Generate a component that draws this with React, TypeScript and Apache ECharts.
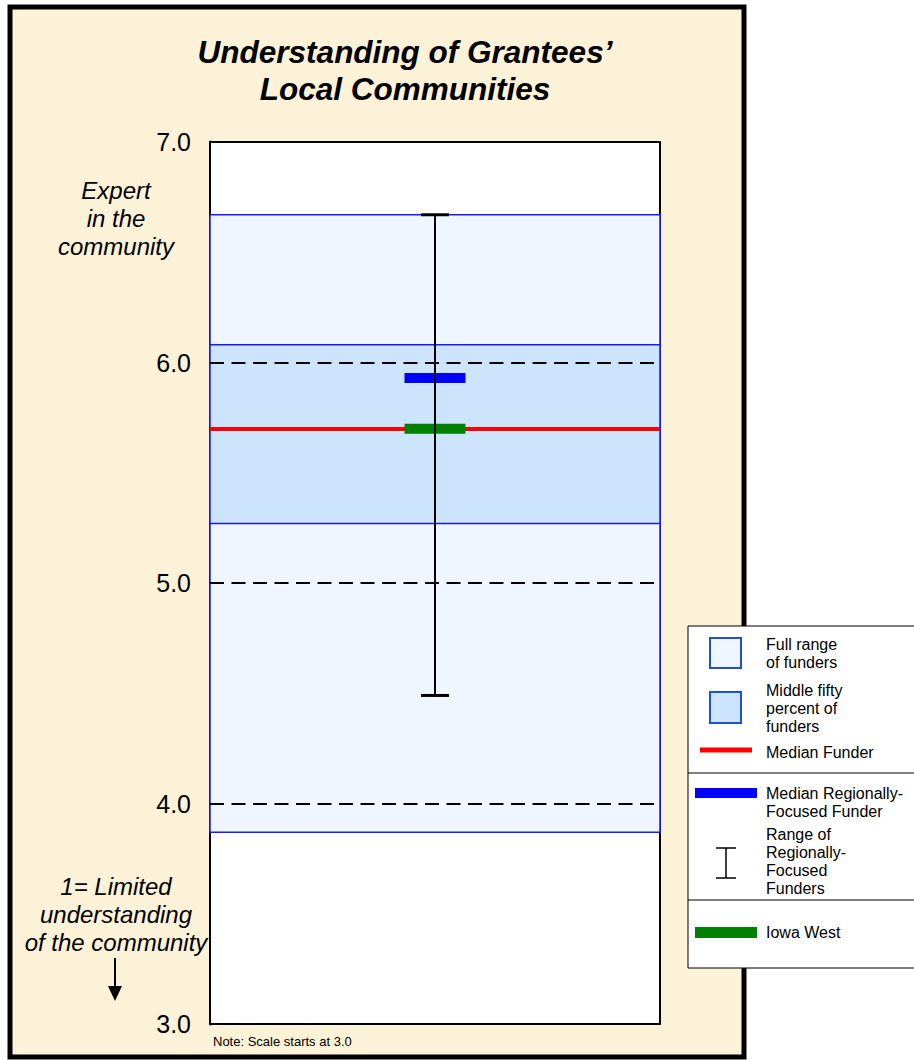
import React, { useEffect, useRef } from "react";
import * as echarts from "echarts";

const titleLines = ["Understanding of Grantees’", "Local Communities"];
const yTicks = [3, 4, 5, 6, 7];
const fullRange = [3.87, 6.67];
const middleFifty = [5.27, 6.08];
const medianFunder = 5.7;
const medianRegional = 5.93;
const regionalRange = [4.49, 6.67];
const iowaWest = 5.7;
const topLabel = ["Expert", "in the", "community"];
const bottomLabel = ["1= Limited", "understanding", "of the community"];
const noteText = "Note: Scale starts at 3.0";
const legendFull = "Full range\nof funders";
const legendMid = "Middle fifty\npercent of\nfunders";
const legendMedian = "Median Funder";
const legendRegional = "Median Regionally-\nFocused Funder";
const legendRange = "Range of\nRegionally-\nFocused\nFunders";
const legendIowa = "Iowa West";

const FONT = "'Liberation Sans', Arial, Helvetica, sans-serif";

export default function App() {
  const ref = useRef<HTMLDivElement>(null);
  useEffect(() => {
    if (!ref.current) return;
    const chart = echarts.init(ref.current, undefined, { renderer: "svg" });
    const legendText = (x: number, y: number, text: string) => ({
      type: "text",
      x,
      y,
      z: 101,
      style: {
        text,
        fontSize: 16,
        lineHeight: 18,
        fontFamily: FONT,
        fill: "#000",
        textVerticalAlign: "middle",
      },
    });
    const sideText = (x: number, y: number, text: string) => ({
      type: "text",
      x,
      y,
      z: 10,
      style: {
        text,
        fontSize: 24,
        fontStyle: "italic",
        fontFamily: FONT,
        fill: "#000",
        textAlign: "center",
        textVerticalAlign: "middle",
      },
    });
    const option: any = {
      animation: false,
      backgroundColor: "#ffffff",
      grid: {
        left: 210,
        top: 142,
        width: 450,
        height: 882,
        show: true,
        backgroundColor: "#ffffff",
        borderColor: "#000",
        borderWidth: 2,
        z: 1,
      },
      xAxis: { type: "value", min: 0, max: 1, show: false },
      yAxis: {
        type: "value",
        min: 3,
        max: 7,
        interval: 1,
        axisLine: { show: true, lineStyle: { color: "#000", width: 3 } },
        axisTick: { show: false },
        splitLine: { show: false },
        axisLabel: {
          formatter: (v: number) => v.toFixed(1),
          fontSize: 25,
          color: "#000",
          fontFamily: FONT,
          margin: 19,
        },
      },
      graphic: [
        {
          type: "rect",
          z: -10,
          shape: { x: 10, y: 7, width: 734, height: 1050 },
          style: { fill: "#fcf2d7", stroke: "#000", lineWidth: 5 },
        },
        ...titleLines.map((t, i) => ({
          type: "text",
          x: 405,
          y: 52 + i * 37,
          z: 10,
          style: {
            text: t,
            fontSize: 31.5,
            fontWeight: "bold",
            fontStyle: "italic",
            fontFamily: FONT,
            fill: "#000",
            textAlign: "center",
            textVerticalAlign: "middle",
          },
        })),
        ...topLabel.map((t, i) => sideText(116, 190 + i * 28, t)),
        ...bottomLabel.map((t, i) => sideText(116, 886 + i * 28, t)),
        {
          type: "line",
          z: 10,
          shape: { x1: 115, y1: 958, x2: 115, y2: 988 },
          style: { stroke: "#000", lineWidth: 2 },
        },
        {
          type: "polygon",
          z: 10,
          shape: { points: [[108, 986], [122, 986], [115, 1001]] },
          style: { fill: "#000" },
        },
        {
          type: "text",
          x: 213,
          y: 1041,
          z: 10,
          style: {
            text: noteText,
            fontSize: 13,
            fontFamily: FONT,
            fill: "#000",
            textVerticalAlign: "middle",
          },
        },
        // legend
        {
          type: "rect",
          z: 100,
          shape: { x: 688, y: 626, width: 240, height: 342 },
          style: { fill: "#fff", stroke: "#000", lineWidth: 1 },
        },
        {
          type: "line",
          z: 101,
          shape: { x1: 688, y1: 773, x2: 920, y2: 773 },
          style: { stroke: "#000", lineWidth: 1 },
        },
        {
          type: "line",
          z: 101,
          shape: { x1: 688, y1: 900, x2: 920, y2: 900 },
          style: { stroke: "#000", lineWidth: 1 },
        },
        {
          type: "rect",
          z: 101,
          shape: { x: 710, y: 638, width: 31, height: 30 },
          style: { fill: "#f0f6ff", stroke: "#1f4fd8", lineWidth: 2 },
        },
        legendText(766, 653, legendFull),
        {
          type: "rect",
          z: 101,
          shape: { x: 710, y: 692, width: 31, height: 31 },
          style: { fill: "#cce4fc", stroke: "#1f4fd8", lineWidth: 2 },
        },
        legendText(766, 708, legendMid),
        {
          type: "line",
          z: 101,
          shape: { x1: 700, y1: 750, x2: 752, y2: 750 },
          style: { stroke: "#ff0000", lineWidth: 5 },
        },
        legendText(766, 752, legendMedian),
        {
          type: "rect",
          z: 101,
          shape: { x: 695, y: 788, width: 62, height: 10 },
          style: { fill: "#0000ff" },
        },
        legendText(766, 802, legendRegional),
        {
          type: "line",
          z: 101,
          shape: { x1: 726, y1: 848, x2: 726, y2: 878 },
          style: { stroke: "#000", lineWidth: 1.5 },
        },
        {
          type: "line",
          z: 101,
          shape: { x1: 716, y1: 848, x2: 736, y2: 848 },
          style: { stroke: "#000", lineWidth: 1.5 },
        },
        {
          type: "line",
          z: 101,
          shape: { x1: 716, y1: 878, x2: 736, y2: 878 },
          style: { stroke: "#000", lineWidth: 1.5 },
        },
        legendText(766, 861, legendRange),
        {
          type: "rect",
          z: 101,
          shape: { x: 695, y: 927, width: 62, height: 11 },
          style: { fill: "#008000" },
        },
        legendText(766, 932, legendIowa),
      ],
      series: [
        {
          name: "bands",
          type: "line",
          data: [],
          z: 2,
          markArea: {
            silent: true,
            data: [
              [
                { yAxis: fullRange[0], itemStyle: { color: "#f0f6ff", borderColor: "#1a1aff", borderWidth: 1.5 } },
                { yAxis: fullRange[1] },
              ],
              [
                { yAxis: middleFifty[0], itemStyle: { color: "#cce4fc", borderColor: "#1a1aff", borderWidth: 1.5 } },
                { yAxis: middleFifty[1] },
              ],
            ],
          },
        },
        {
          name: "grid",
          type: "line",
          data: [],
          z: 3,
          markLine: {
            silent: true,
            symbol: "none",
            label: { show: false },
            lineStyle: { color: "#000", type: [14, 7.5], width: 2 },
            data: yTicks.map((v) => ({ yAxis: v })),
          },
        },
        {
          name: "Median Funder",
          type: "line",
          data: [],
          z: 4,
          markLine: {
            silent: true,
            symbol: "none",
            label: { show: false },
            lineStyle: { color: "#ff0000", type: "solid", width: 4 },
            data: [{ yAxis: medianFunder }],
          },
        },
        {
          name: "Median Regionally-Focused Funder",
          type: "scatter",
          z: 5,
          symbol: "rect",
          symbolSize: [61, 10],
          itemStyle: { color: "#0000ff", opacity: 1 },
          data: [[0.5, medianRegional]],
        },
        {
          name: "Iowa West",
          type: "scatter",
          z: 5,
          symbol: "rect",
          symbolSize: [61, 10],
          itemStyle: { color: "#008000", opacity: 1 },
          data: [[0.5, iowaWest]],
        },
        {
          name: "Range of Regionally-Focused Funders",
          type: "custom",
          z: 6,
          data: [[0.5, regionalRange[0], regionalRange[1]]],
          renderItem: (params: any, api: any) => {
            const lo = api.coord([api.value(0), api.value(1)]);
            const hi = api.coord([api.value(0), api.value(2)]);
            const half = 14;
            return {
              type: "group",
              children: [
                {
                  type: "line",
                  shape: { x1: lo[0], y1: lo[1], x2: hi[0], y2: hi[1] },
                  style: { stroke: "#000", lineWidth: 2 },
                },
                {
                  type: "line",
                  shape: { x1: hi[0] - half, y1: hi[1], x2: hi[0] + half, y2: hi[1] },
                  style: { stroke: "#000", lineWidth: 3 },
                },
                {
                  type: "line",
                  shape: { x1: lo[0] - half, y1: lo[1], x2: lo[0] + half, y2: lo[1] },
                  style: { stroke: "#000", lineWidth: 3 },
                },
              ],
            };
          },
        },
      ],
    };
    chart.setOption(option);
    return () => chart.dispose();
  }, []);
  return (
    <div
      ref={ref}
      style={{ position: "fixed", left: 0, top: 0, width: 914, height: 1060 }}
    />
  );
}
